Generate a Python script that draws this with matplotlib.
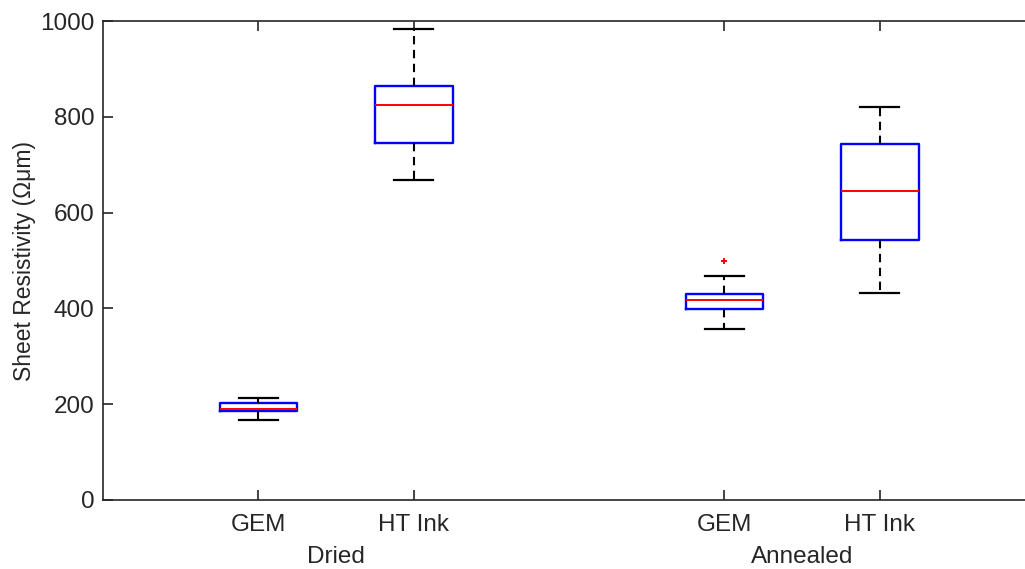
import matplotlib
matplotlib.use("Agg")
import matplotlib.pyplot as plt
from matplotlib.transforms import blended_transform_factory

plt.rcParams['font.family'] = ['Liberation Sans', 'DejaVu Sans']
plt.rcParams['lines.scale_dashes'] = False

# Data
labels = ["GEM", "HT Ink", "GEM", "HT Ink"]
groups = ["Dried", "Annealed"]
group_centers = [1.5, 4.5]
positions = [1, 2, 4, 5]
whislo = [168, 668, 356, 432]
q1 = [185, 746, 399, 542]
med = [189, 824, 418, 646]
q3 = [202, 864, 431, 743]
whishi = [212, 984, 468, 820]
fliers = [[], [], [498], []]

stats = []
for i in range(len(labels)):
    stats.append(dict(label=labels[i], whislo=whislo[i], q1=q1[i], med=med[i],
                      q3=q3[i], whishi=whishi[i], fliers=fliers[i]))

fig = plt.figure(figsize=(10.25, 5.69), dpi=100)
ax = fig.add_axes([0.1005, 0.1213, 0.9093, 0.8417])

axcol = '#262626'
ax.bxp(stats, positions=positions, widths=0.5,
       boxprops=dict(color='#0000ff', linewidth=1.7),
       medianprops=dict(color='#ff0000', linewidth=1.4),
       whiskerprops=dict(color='black', linewidth=1.5, linestyle=(0, (6, 4))),
       capprops=dict(color='black', linewidth=1.6),
       flierprops=dict(marker='+', markeredgecolor='#ff0000', markersize=5, markeredgewidth=1.4),
       capwidths=0.25, manage_ticks=False)

ax.set_xlim(0, 6)
ax.set_ylim(0, 1000)
ax.set_xticks(positions)
ax.set_xticklabels(labels)
ax.set_yticks([0, 200, 400, 600, 800, 1000])
ax.tick_params(direction='in', length=7, width=1.2, colors=axcol, labelsize=17.5,
               top=True, right=True, pad=6)
ax.tick_params(axis='x', pad=10)
for s in ax.spines.values():
    s.set_color(axcol)
    s.set_linewidth(1.2)

ax.set_ylabel("Sheet Resistivity (Ωμm)", fontsize=16.5, color=axcol, labelpad=3)

trans = blended_transform_factory(ax.transData, fig.transFigure)
for gc, g in zip(group_centers, groups):
    ax.text(gc, (569 - 557) / 569, g, transform=trans, ha='center', va='center',
            fontsize=17.5, color=axcol)

fig.savefig("out.png", dpi=100)
